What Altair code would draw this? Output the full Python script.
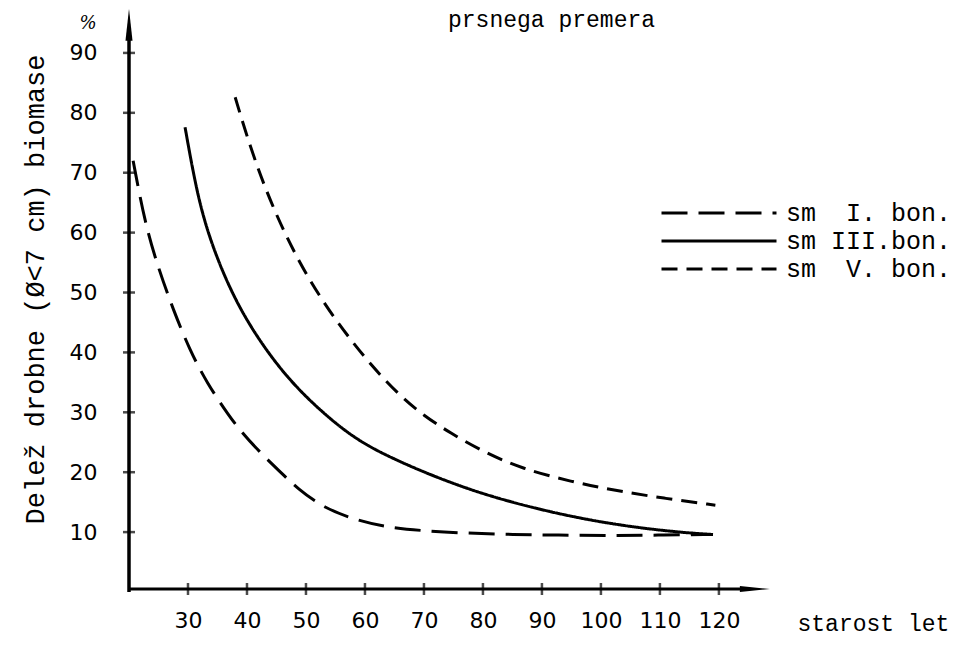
import altair as alt
import pandas as pd

# ---- data ----
labels = ["sm\u00a0\u00a0I.\u00a0bon.", "sm\u00a0III.bon.", "sm\u00a0\u00a0V.\u00a0bon."]

age_I = [20.7, 22.7, 24.9, 27.5, 30.3, 33.2, 37.1, 39, 42.1, 45.5, 48.6, 53.1, 58.5,
         63.8, 69.9, 77.5, 85.1, 92.7, 101.1, 109.5, 119]
val_I = [72, 61.6, 54.3, 47.1, 40.4, 34.9, 29.2, 26.8, 23.4, 20.2, 17.2, 14.0, 12.0,
         10.8, 10.2, 9.8, 9.6, 9.5, 9.4, 9.5, 9.6]

age_III = [29.5, 31.5, 33.7, 37.1, 41, 46.8, 53.6, 59.2, 65.3, 72.2, 79.8, 88.2, 97.3,
           106.4, 114.1, 119]
val_III = [77.6, 66.6, 58.8, 50.5, 43.5, 35.6, 29.2, 25.0, 22.0, 19.1, 16.4, 14.1, 12.1,
           10.7, 9.9, 9.6]

age_V = [38, 40, 42.7, 46.1, 50.2, 55.3, 61.4, 66.1, 69.9, 74.5, 80.5, 86.6, 95, 102.6,
         111, 119.4]
val_V = [82.6, 76, 68.3, 60.4, 52.6, 44.9, 37.4, 32.6, 29.5, 26.5, 23.2, 20.6, 18.4, 16.9,
         15.6, 14.5]

x_ticks = [30, 40, 50, 60, 70, 80, 90, 100, 110, 120]
y_ticks = [10, 20, 30, 40, 50, 60, 70, 80, 90]

title_text = "prsnega premera"
x_title = "starost let"
y_title = "Delež drobne (Ø<7 cm) biomase"

# ---- tables ----
rows = []
for lab, ages, vals in zip(labels, [age_I, age_III, age_V], [val_I, val_III, val_V]):
    for i, (a, v) in enumerate(zip(ages, vals)):
        rows.append({"serie": lab, "age": a, "val": v, "order": i})
curves = pd.DataFrame(rows)

xt = pd.DataFrame({"age": x_ticks, "val": [0.5] * len(x_ticks)})
yt = pd.DataFrame({"age": [20] * len(y_ticks), "val": y_ticks})
xaxis_line = pd.DataFrame({"age": [20], "age2": [125], "val": [0.5]})
yaxis_line = pd.DataFrame({"age": [20], "val": [0], "val2": [93]})
arrows = pd.DataFrame({"age": [20, 126.1], "val": [94.7, 0.5], "dir": ["up", "right"]})

XD = [20, 129]
YD = [0, 97.5]
xs = alt.Scale(domain=XD, nice=False, zero=False)
ys = alt.Scale(domain=YD, nice=False, zero=False)

MONO = "Liberation Mono"

xaxis = alt.Axis(values=x_ticks, domain=False, ticks=False, grid=False,
                 labelFont="DejaVu Sans", labelFontSize=22, labelColor="black",
                 labelPadding=18, title=x_title, titleFont=MONO, titleFontSize=23,
                 titleFontWeight="normal", titleColor="black",
                 titleX=668, titleY=31, titleAlign="left", titleBaseline="middle",
                 titleAngle=0, labelFlush=False)
yaxis = alt.Axis(values=y_ticks, domain=False, ticks=False, grid=False,
                 labelFont="DejaVu Sans", labelFontSize=22, labelColor="black",
                 labelPadding=32, title=y_title, titleFont=MONO, titleFontSize=27,
                 titleFontWeight="normal", titleColor="black",
                 titleX=-94, titleY=281, titleAlign="center", titleBaseline="middle",
                 titleAngle=-90, labelFlush=False)

lines = alt.Chart(curves).mark_line(interpolate="basis", color="black",
                                    strokeWidth=3, clip=False).encode(
    x=alt.X("age:Q", scale=xs, axis=xaxis),
    y=alt.Y("val:Q", scale=ys, axis=yaxis),
    order="order:O",
    strokeDash=alt.StrokeDash(
        "serie:N",
        scale=alt.Scale(domain=labels, range=[[26, 11], [1, 0], [16, 9]]),
        legend=alt.Legend(orient="none", legendX=531, legendY=192, title=None,
                          symbolType="stroke", symbolSize=13225, symbolStrokeWidth=3,
                          symbolStrokeColor="black", labelFont=MONO, labelFontSize=25,
                          labelColor="black", rowPadding=2, labelOffset=8,
                          clipHeight=26, labelLimit=0)),
)

xline = alt.Chart(xaxis_line).mark_rule(color="black", strokeWidth=3).encode(
    x=alt.X("age:Q", scale=xs), x2="age2:Q", y=alt.Y("val:Q", scale=ys))
yline = alt.Chart(yaxis_line).mark_rule(color="black", strokeWidth=3.5).encode(
    x=alt.X("age:Q", scale=xs), y=alt.Y("val:Q", scale=ys), y2="val2:Q")

xtick = alt.Chart(xt).mark_point(shape="M0,-1L0,1", size=144, color="black",
                                 strokeWidth=2.5, filled=False).encode(
    x=alt.X("age:Q", scale=xs), y=alt.Y("val:Q", scale=ys))
ytick = alt.Chart(yt).mark_point(shape="M-1,0L1,0", size=144, color="black",
                                 strokeWidth=2.5, filled=False).encode(
    x=alt.X("age:Q", scale=xs), y=alt.Y("val:Q", scale=ys))

arrow_up = alt.Chart(arrows[arrows["dir"] == "up"]).mark_point(
    shape="M0,-1L0.22,1L-0.22,1Z", size=1024, color="black", filled=True, opacity=1
).encode(x=alt.X("age:Q", scale=xs), y=alt.Y("val:Q", scale=ys))
arrow_right = alt.Chart(arrows[arrows["dir"] == "right"]).mark_point(
    shape="M1,0L-1,0.2L-1,-0.2Z", size=900, color="black", filled=True, opacity=1
).encode(x=alt.X("age:Q", scale=xs), y=alt.Y("val:Q", scale=ys))

title_mark = alt.Chart(pd.DataFrame({"t": [title_text]})).mark_text(
    font=MONO, fontSize=23, align="left", baseline="middle", color="black"
).encode(x=alt.value(319), y=alt.value(12), text="t:N")
pct_mark = alt.Chart(pd.DataFrame({"t": ["%"]})).mark_text(
    font="DejaVu Serif", fontSize=18, fontStyle="italic", align="center",
    baseline="middle", color="black"
).encode(x=alt.value(-41), y=alt.value(16), text="t:N")

chart = alt.layer(
    lines, xline, yline, xtick, ytick, arrow_up, arrow_right, title_mark, pct_mark
).properties(
    width=643, height=584,
    autosize=alt.AutoSizeParams(type="none"),
    padding={"left": 121, "top": 0, "right": 188, "bottom": 46},
    background="white",
).configure_view(stroke=None)

chart.save("out.html", embed_options={"renderer": "svg", "actions": False})
